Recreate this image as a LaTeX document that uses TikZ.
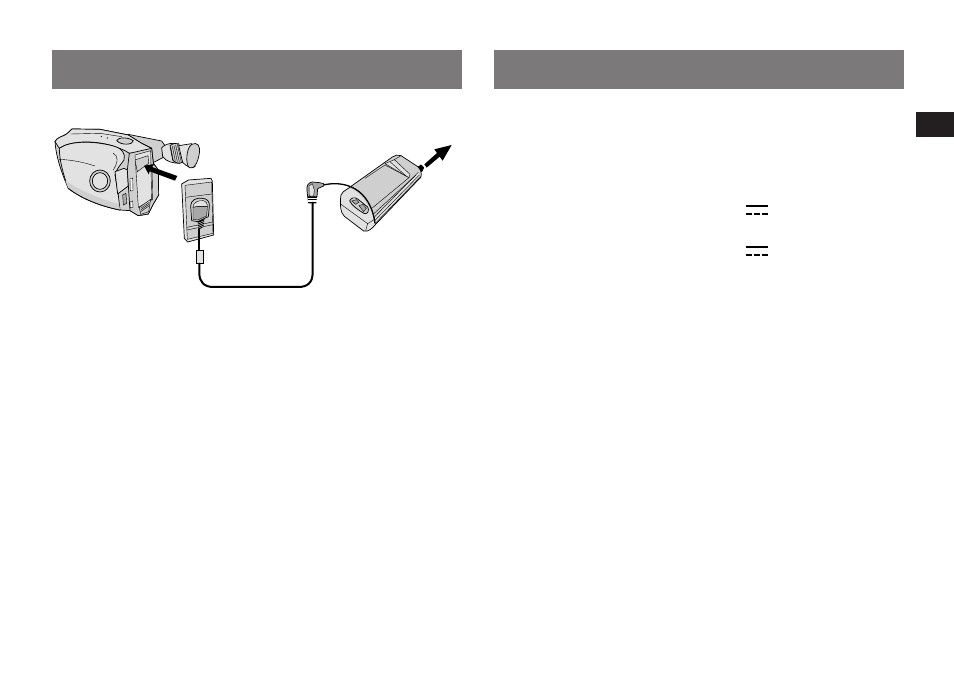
\documentclass[tikz,border=0pt]{standalone}
\usepackage{tikz}
\definecolor{hdr}{HTML}{7B7979}
\definecolor{tabk}{HTML}{231F20}
\definecolor{bodyg}{HTML}{CFCFCF}
\definecolor{lightg}{HTML}{E2E2E2}
\definecolor{darkg}{HTML}{A8A8A8}
\tikzset{
  ln/.style={draw=black,line width=0.7pt,line join=round,line cap=round},
  thin ln/.style={draw=black,line width=0.4pt,line cap=round},
  header/.style={fill=hdr,draw=none},
  cable/.style={draw=black,line width=2pt,line cap=round},
  bigarrow/.style={fill=black,draw=none},
  dcline/.style={draw=black,line width=1.7pt},
  dcdash/.style={draw=black,line width=1.7pt,dash pattern=on 6pt off 2pt},
  zm/.style 2 args={shift={(#1,#2)},x=0.33333pt,y=-0.33333pt},
}
\begin{document}
\begin{tikzpicture}[x=1pt,y=-1pt]
\useasboundingbox (0,0) rectangle (954,676);
\fill[white] (0,0) rectangle (954,676);
\fill[header] (52,50) rectangle (462,89);
\fill[header] (494,50) rectangle (904,89);
\fill[tabk] (916,112) rectangle (954,137);
\draw[dcline] (746,206) -- (768,206);
\draw[dcdash] (746,214) -- (768,214);
\draw[dcline] (746,247) -- (768,247);
\draw[dcdash] (746,255) -- (768,255);
% viewfinder (origin 120,125)
\begin{scope}[zm={120}{125}]
\filldraw[ln,fill=bodyg] (24,28) -- (125,48) -- (135,62) -- (130,97) -- (90,118) -- (70,100) -- cycle;
\filldraw[ln,fill=lightg] (125,68) .. controls (135,58) and (148,55) .. (160,55) -- (180,115) .. controls (160,115) and (138,110) .. (128,95) -- cycle;
\filldraw[ln,fill=bodyg] (150,62) .. controls (158,55) and (168,54) .. (176,56) -- (192,110) .. controls (180,118) and (165,115) .. (158,105) -- cycle;
\foreach \i in {0,1,2,3,4} \draw[thin ln] (152+\i*5,66-\i*2) -- (160+\i*6,108+\i);
\filldraw[ln,fill=lightg] (176,62) -- (215,56) -- (225,125) .. controls (215,132) and (200,125) .. (188,112) -- cycle;
\filldraw[ln,fill=bodyg] (215,58) .. controls (232,50) and (242,62) .. (238,85) .. controls (234,112) and (222,135) .. (208,128) .. controls (196,118) and (198,70) .. (215,58) -- cycle;
\end{scope}
% camera body (origin 50,120)
\begin{scope}[zm={50}{120}]
\filldraw[ln,fill=bodyg] (15,65) .. controls (20,52) and (38,50) .. (50,42) -- (66,27) -- (150,28) -- (235,45) -- (275,70) -- (305,85)
  -- (310,130) -- (325,150) -- (326,225) -- (310,252) -- (295,282) -- (265,287) -- (240,272) -- (210,270)
  .. controls (160,260) and (100,240) .. (55,205) .. controls (35,160) and (18,110) .. (15,65) -- cycle;
% top surface
\filldraw[ln,fill=lightg] (28,85) .. controls (60,62) and (130,60) .. (190,78) .. controls (205,84) and (225,90) .. (238,100) -- (275,100) -- (305,85) -- (275,70) -- (235,45) -- (150,28) -- (66,27) -- (50,42) .. controls (38,50) and (20,52) .. (15,65) -- cycle;
\draw[thin ln] (62,42) -- (150,40) -- (215,50);
\filldraw[ln,fill=bodyg] (200,62) .. controls (203,52) and (232,50) .. (250,62) .. controls (250,74) and (215,78) .. (200,62) -- cycle;
\fill (154,50) circle (2);
\fill (172,54) circle (2);
% side panel
\filldraw[ln,fill=lightg] (28,85) .. controls (60,62) and (130,62) .. (190,78) .. controls (215,85) and (228,100) .. (222,120) .. controls (212,135) and (200,145) .. (195,165) -- (205,225) -- (210,270)
  .. controls (160,260) and (100,240) .. (55,205) .. controls (40,165) and (28,120) .. (28,85) -- cycle;
\fill[bodyg] (55,205) .. controls (100,240) and (160,260) .. (210,270) -- (207,252) .. controls (160,240) and (100,218) .. (46,182) -- cycle;
\draw[thin ln] (28,118) .. controls (70,120) and (105,128) .. (135,138);
\draw[thin ln] (190,100) .. controls (205,108) and (205,125) .. (190,150);
\draw[ln] (55,205) .. controls (100,240) and (160,260) .. (210,270);
% lens
\filldraw[ln,fill=bodyg] (150,183) ellipse (31 and 33);
\filldraw[ln,fill=lightg] (150,183) ellipse (23 and 25);
% hand piece
\filldraw[ln,fill=lightg] (195,155) -- (222,145) -- (232,150) -- (235,198) -- (203,222) -- cycle;
% rear panel
\filldraw[ln,fill=bodyg] (238,100) -- (305,85) -- (310,130) -- (325,150) -- (326,225) -- (310,252) -- (295,282) -- (265,287) -- (240,272) -- (232,150) -- cycle;
\filldraw[thin ln,fill=lightg] (255,105) -- (302,92) -- (305,240) -- (265,262) -- cycle;
\draw[thin ln] (306,130) -- (308,240);
\filldraw[thin ln,fill=bodyg] (255,120) -- (294,107) -- (296,130) -- (262,155) -- cycle;
\filldraw[thin ln,fill=bodyg] (268,262) -- (302,238) -- (296,275) -- (272,283) -- cycle;
\foreach \i in {0,1,2} \draw[thin ln] (272,265+\i*5) -- (298,247+\i*5);
\filldraw[thin ln,fill=white] (240,176) -- (248,174) -- (249,212) -- (241,213) -- cycle;
\filldraw[thin ln,fill=darkg] (218,225) -- (228,220) -- (230,250) -- (220,255) -- cycle;
\filldraw[thin ln,fill=white] (240,245) -- (248,243) -- (249,262) -- (241,264) -- cycle;
\end{scope}
% arrow into camera (origin 120,125)
\begin{scope}[zm={120}{125}]
\fill[bigarrow] (72,122) -- (104,117) -- (96,126) -- (172,153) -- (165,167) -- (89,139) -- (86,148) -- cycle;
\end{scope}
% plate (origin 175,170)
\begin{scope}[zm={175}{170}]
\filldraw[ln,fill=lightg] (20,42) -- (40,30) -- (108,25) -- (112,33) -- (116,195) -- (38,216) -- (28,205) -- cycle;
\filldraw[thin ln,fill=bodyg] (30,46) -- (110,36) -- (114,190) -- (37,208) -- cycle;
\draw[thin ln] (32,82) -- (110,72);
\draw[thin ln] (35,172) -- (113,156);
\draw[thin ln] (36,180) -- (114,164);
% plug on plate
\filldraw[ln,fill=bodyg] (47,108) .. controls (47,90) and (65,82) .. (82,85) .. controls (98,86) and (104,95) .. (103,110) -- (100,140) -- (68,155) -- (50,152) -- cycle;
\filldraw[thin ln,fill=lightg] (54,112) .. controls (54,98) and (70,90) .. (84,92) .. controls (94,94) and (97,100) .. (97,110) -- (66,110) -- cycle;
\filldraw[thin ln,fill=darkg] (54,112) -- (66,110) -- (97,110) -- (95,138) -- (68,150) -- (54,148) -- cycle;
\fill[black] (68,155) -- (88,147) -- (86,170) -- (70,180) -- cycle;
\foreach \i in {0,1,2,3} \draw[draw=white,line width=0.35pt] (68,160+\i*5) -- (88,152+\i*5);
\draw[cable] (73,178) -- (73,240);
\filldraw[line width=0.8pt,draw=black,fill=lightg] (64,240) rectangle (84,280);
\end{scope}
% charger (origin 335,145)
\begin{scope}[zm={335}{145}]
\path[fill=bodyg] (18,150) .. controls (20,142) and (28,138) .. (34,134) -- (172,36) .. controls (180,30) and (190,28) .. (198,32) -- (250,66) .. controls (258,72) and (260,85) .. (258,96) -- (122,238) .. controls (112,250) and (100,262) .. (86,258) -- (28,214) .. controls (16,204) and (14,175) .. (18,150) -- cycle;
% long side band
\fill[lightg] (118,222) -- (250,82) -- (252,92) -- (120,234) -- cycle;
\draw[thin ln] (112,210) -- (243,90);
\draw[thin ln] (116,218) -- (250,82);
\draw[thin ln] (118,228) -- (253,90);
\draw[thin ln] (120,236) -- (257,95);
% top inner panel
\draw[thin ln] (90,100) -- (150,60) -- (222,98) -- (108,192);
\filldraw[thin ln,fill=lightg] (150,56) -- (178,44) -- (225,88) -- (222,98) -- cycle;
\draw[thin ln] (165,50) -- (214,94);
\draw[thin ln] (178,44) -- (198,32);
% front face
\fill[lightg] (18,150) .. controls (14,175) and (16,204) .. (28,214) -- (86,258) .. controls (100,262) and (112,250) .. (118,240) -- (114,205) .. controls (92,165) and (55,120) .. (34,134) -- cycle;
\draw[thin ln] (18,178) -- (98,236) -- (120,222);
\draw[thin ln] (98,236) -- (92,256);
\filldraw[ln,fill=bodyg] (44,168) .. controls (48,158) and (58,155) .. (68,162) -- (98,186) .. controls (104,196) and (98,208) .. (88,206) .. controls (70,195) and (50,182) .. (44,168) -- cycle;
\filldraw[thin ln,fill=darkg] (50,168) -- (64,164) -- (72,172) -- (62,178) -- cycle;
\filldraw[thin ln,fill=darkg] (72,182) -- (84,178) -- (94,190) -- (86,200) -- cycle;
% outline
\draw[ln] (18,150) .. controls (20,142) and (28,138) .. (34,134) -- (172,36) .. controls (180,30) and (190,28) .. (198,32) -- (250,66) .. controls (258,72) and (260,85) .. (258,96) -- (122,238) .. controls (112,250) and (100,262) .. (86,258) -- (28,214) .. controls (16,204) and (14,175) .. (18,150) -- cycle;
% mains stub
\filldraw[ln,fill=black] (250,66) -- (258,60) -- (266,68) -- (260,80) -- cycle;
\end{scope}
% arrow to mains (origin 190,130)
\begin{scope}[zm={190}{130}]
\fill[bigarrow] (785,45) -- (758,92) -- (749,80) -- (710,113) -- (703,103) -- (741,69) -- (733,58) -- cycle;
\end{scope}
% cable and plug (origin 295,170)
\begin{scope}[zm={295}{170}]
\draw[line width=1.3pt,line cap=round] (85,45) .. controls (150,30) and (225,55) .. (240,159);
\filldraw[ln,fill=darkg] (36,62) .. controls (34,46) and (40,38) .. (52,36) -- (74,38) -- (86,41) -- (86,48) -- (68,56) -- (66,80) -- (38,80) -- cycle;
\filldraw[thin ln,fill=lightg] (42,48) -- (52,41) -- (58,60) -- (56,78) -- (43,78) -- cycle;
\fill[black] (37,80) -- (66,80) -- (64,100) -- (40,100) -- cycle;
\foreach \i in {0,1,2} \draw[draw=white,line width=0.5pt] (38,85+\i*5) -- (65,85+\i*5);
\end{scope}
% long cable
\begin{scope}[zm={190}{130}]
\draw[cable] (368,218) -- (368,428) .. controls (368,458) and (352,471) .. (325,471) -- (70,471) .. controls (42,471) and (28,455) .. (28,430) -- (28,401);
\end{scope}
\end{tikzpicture}
\end{document}
